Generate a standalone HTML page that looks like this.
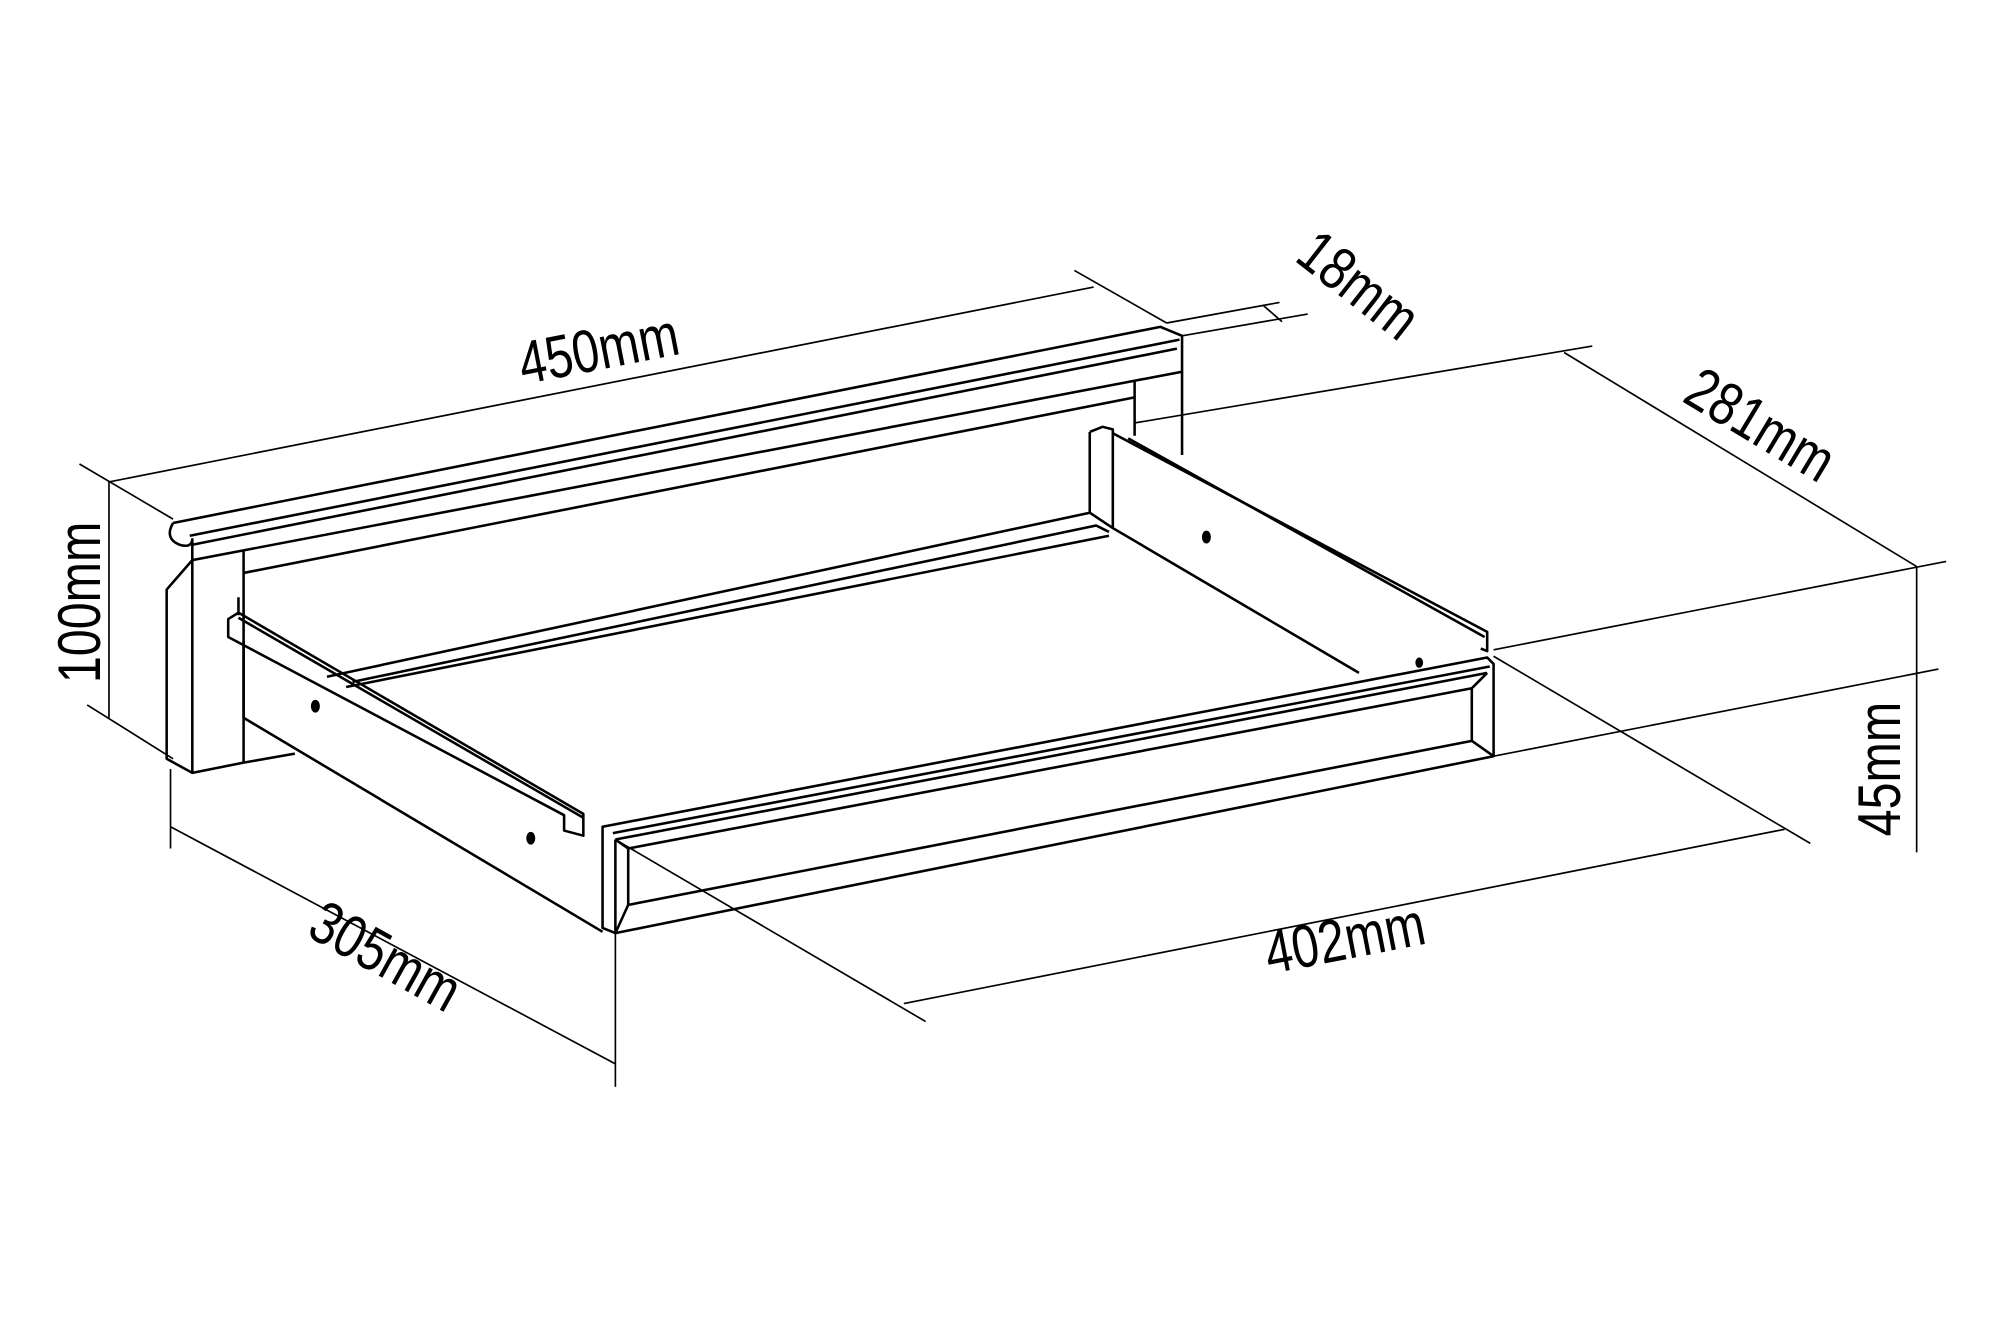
<!DOCTYPE html>
<html><head><meta charset="utf-8"><style>
html,body{margin:0;padding:0;background:#fff;}
svg{display:block;}
text{font-family:"Liberation Sans",sans-serif;font-size:42px;fill:#000;}
</style></head><body>
<svg width="2000" height="1333" viewBox="0 0 1560 1040" preserveAspectRatio="none" xmlns="http://www.w3.org/2000/svg">
<g fill="none" stroke="#000" stroke-width="2" stroke-linejoin="round">
<g stroke-width="1.3">
<line x1="62" y1="362" x2="135" y2="405"/>
<line x1="85" y1="376" x2="853" y2="224"/>
<line x1="838" y1="211" x2="910" y2="252"/>
<line x1="85" y1="376" x2="85" y2="560"/>
<line x1="68" y1="550" x2="135" y2="592"/>
<line x1="910" y1="252" x2="998" y2="236"/>
<line x1="922" y1="262" x2="1020" y2="245"/>
<line x1="985" y1="238" x2="1000" y2="251"/>
<line x1="885" y1="330" x2="1242" y2="270"/>
<line x1="1220" y1="275" x2="1495" y2="442"/>
<line x1="1165" y1="507" x2="1518" y2="438"/>
<line x1="1495" y1="442" x2="1495" y2="665"/>
<line x1="1165" y1="590" x2="1512" y2="522"/>
<line x1="1165" y1="512" x2="1412" y2="658"/>
<line x1="705" y1="783" x2="1392" y2="647"/>
<line x1="480" y1="655" x2="722" y2="797"/>
<line x1="133" y1="600" x2="133" y2="662"/>
<line x1="133" y1="645" x2="480" y2="830"/>
<line x1="480" y1="728" x2="480" y2="848"/>
</g>
<path d="M135,408 L905,255 L922,262 L922,290 L150,437"/>
<path d="M148,418 L920,265"/>
<path d="M150,425 L918,272"/>
<path d="M135,408 Q128,420 140,425 Q150,428 150,420"/>
<path d="M150,420 L150,437 L130,460 L130,592 L150,603 L190,595"/>
<line x1="150" y1="437" x2="150" y2="603"/>
<line x1="190" y1="430" x2="190" y2="595"/>
<line x1="885" y1="297" x2="885" y2="340"/>
<line x1="922" y1="290" x2="922" y2="355"/>
<path d="M190,447 L885,310"/>
<path d="M190,595 L230,588"/>
<path d="M255,528 L850,400"/>
<path d="M275,532 L855,410 L865,415"/>
<path d="M270,536 L865,418"/>
<path d="M178,483 L186,478 L455,635 L455,652 L440,648 L440,636 L178,497 Z"/>
<path d="M186,482 L455,638"/>
<path d="M190,500 L190,560 L470,727"/>
<line x1="186" y1="466" x2="186" y2="480"/>
<path d="M850,337 L850,400 L868,412 L868,335 L860,333 L850,337"/>
<path d="M868,338 L1160,493 L1160,508 L1155,506"/>
<path d="M880,342 L1158,497"/>
<path d="M868,412 L1060,525"/>
<path d="M470,645 L1160,513 L1165,518 L1165,590 L480,728 L470,724 Z"/>
<path d="M478,650 L1162,520"/>
<path d="M480,655 L1160,525"/>
<path d="M480,655 L480,728"/>
<path d="M490,662 L1148,537 L1148,578 L490,706 Z"/>
<path d="M480,655 L490,662 M480,728 L490,706 M1160,525 L1148,537 M1165,590 L1148,578"/>
<ellipse cx="246" cy="551" rx="2.5" ry="4" fill="#000"/>
<ellipse cx="414" cy="654" rx="2.5" ry="4" fill="#000"/>
<ellipse cx="941" cy="419" rx="2.5" ry="4" fill="#000"/>
<ellipse cx="1107" cy="517" rx="2" ry="3" fill="#000"/>
</g>
<g transform="rotate(-11 470 288)"><text x="470" y="288" text-anchor="middle" transform="translate(470 288) scale(0.9 1.12) translate(-470 -288)">450mm</text></g>
<g transform="rotate(38 1050 235)"><text x="1050" y="235" text-anchor="middle" transform="translate(1050 235) scale(0.9 1.12) translate(-1050 -235)">18mm</text></g>
<g transform="rotate(31 1365 345)"><text x="1365" y="345" text-anchor="middle" transform="translate(1365 345) scale(0.9 1.12) translate(-1365 -345)">281mm</text></g>
<g transform="rotate(-90 78 470)"><text x="78" y="470" text-anchor="middle" transform="translate(78 470) scale(0.9 1.12) translate(-78 -470)">100mm</text></g>
<g transform="rotate(-90 1482 600)"><text x="1482" y="600" text-anchor="middle" transform="translate(1482 600) scale(0.9 1.12) translate(-1482 -600)">45mm</text></g>
<g transform="rotate(29 293 760)"><text x="293" y="760" text-anchor="middle" transform="translate(293 760) scale(0.9 1.12) translate(-293 -760)">305mm</text></g>
<g transform="rotate(-11 1052 748)"><text x="1052" y="748" text-anchor="middle" transform="translate(1052 748) scale(0.9 1.12) translate(-1052 -748)">402mm</text></g>
</svg>
</body></html>
